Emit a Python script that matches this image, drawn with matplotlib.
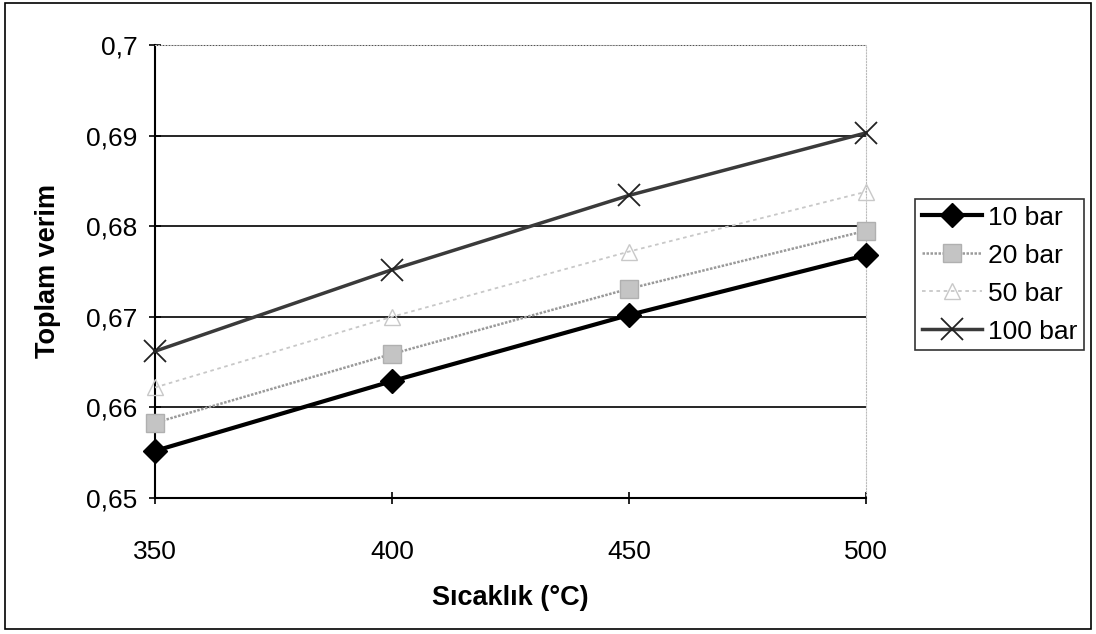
import matplotlib

matplotlib.use("Agg")
import matplotlib.pyplot as plt
from matplotlib.patches import Rectangle
from matplotlib.ticker import FuncFormatter

plt.rcParams["font.family"] = ["Liberation Sans", "DejaVu Sans"]

temps = [350, 400, 450, 500]
series_names = ["10 bar", "20 bar", "50 bar", "100 bar"]
eff_10 = [0.6552, 0.6629, 0.6702, 0.6768]
eff_20 = [0.6583, 0.6659, 0.6731, 0.6795]
eff_50 = [0.6622, 0.6700, 0.6772, 0.6838]
eff_100 = [0.6662, 0.6752, 0.6834, 0.6903]
y_ticks = [0.65, 0.66, 0.67, 0.68, 0.69, 0.70]

fig = plt.figure(figsize=(10.96, 6.34), dpi=100)
ax = fig.add_axes([155 / 1096, 1 - 498 / 634, (866 - 155) / 1096, (498 - 45) / 634])

# outer chart border
fig.patches.append(Rectangle((0.005, 0.008), 0.99, 0.987, transform=fig.transFigure,
                             fill=False, edgecolor="black", linewidth=1.2))

styles = [
    dict(color="black", lw=3, marker="D", ms=12, mfc="black", mec="black"),
    dict(color="#9a9a9a", lw=1.8, ls=(0, (1, 0.6)), marker="s", ms=13, mfc="#c4c4c4", mec="#b0b0b0"),
    dict(color="#c8c8c8", lw=1.3, ls=(0, (2, 2)), marker="^", ms=12, mfc="none", mec="#c8c8c8"),
    dict(color="#3a3a3a", lw=2.5, marker="x", ms=16, mew=1.3, mec="#222222"),
]
for vals, name, st in zip([eff_10, eff_20, eff_50, eff_100], series_names, styles):
    ax.plot(temps, vals, label=name, clip_on=False, zorder=3, **st)

ax.set_xlim(350, 500)
ax.set_ylim(0.65, 0.70)
ax.set_xticks(temps)
ax.set_yticks(y_ticks)
ax.yaxis.set_major_formatter(FuncFormatter(lambda v, p: f"{v:.2f}".rstrip("0").replace(".", ",")))
ax.grid(axis="y", color="black", lw=1.2)
ax.set_axisbelow(True)
for side in ["top", "right"]:
    ax.spines[side].set_color("#bbbbbb")
    ax.spines[side].set_linestyle(":")
for side in ["left", "bottom"]:
    ax.spines[side].set_linewidth(1.5)
ax.tick_params(direction="inout", length=9, width=1.2, labelsize=19)
ax.tick_params(axis="x", pad=26)
ax.tick_params(axis="y", pad=8)

ax.set_xlabel("Sıcaklık (°C)", fontsize=19.5, fontweight="bold", labelpad=15)
ax.set_ylabel("Toplam verim", fontsize=19.5, fontweight="bold", labelpad=18)

leg = fig.legend(loc="upper left", bbox_to_anchor=(915 / 1096, 1 - 199 / 634),
                 fontsize=19, frameon=True, fancybox=False, edgecolor="black",
                 handlelength=2.3, borderpad=0.25, labelspacing=0.53, handletextpad=0.2,
                 borderaxespad=0)
leg.get_frame().set_linewidth(1.2)

fig.savefig("out.png", dpi=100)
